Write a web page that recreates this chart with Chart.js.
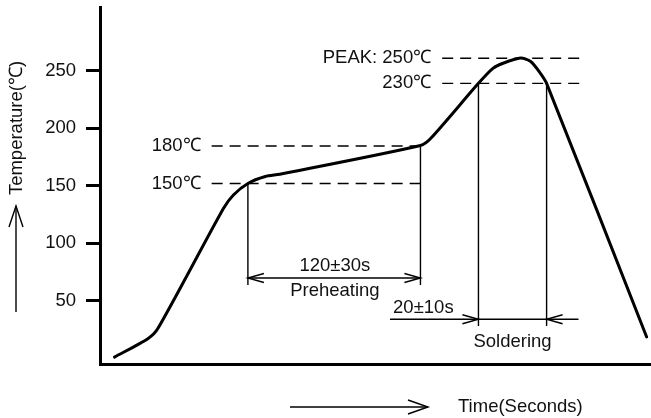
<!DOCTYPE html>
<html>
<head>
<meta charset="utf-8">
<script src="https://cdn.jsdelivr.net/npm/chart.js@4.4.1/dist/chart.umd.min.js"></script>
<style>
  html, body { margin: 0; padding: 0; background: #fff; }
  #wrap { width: 651px; height: 418px; }
</style>
</head>
<body>
<div id="wrap"><canvas id="profileChart"></canvas></div>
<script>
// reflow profile (time in s, temperature in degC)
const profileTime = [10, 33, 40, 85, 92, 102, 114, 124, 221, 228, 261, 271, 278, 290, 297, 303, 308, 377];
const profileTemp = [1, 17, 26, 130, 142, 152, 158, 160, 185, 191, 239, 252, 256.5, 261, 258, 249, 239, 18.5];
const tempTicks = [50, 100, 150, 200, 250];

// dashed guide levels
const levelNames = ['150℃', '180℃', '230℃', 'PEAK: 250℃'];
const levelTemps = [152, 184.6, 239, 260.8];
const levelFrom = [77, 77, 236, 236];
const levelTo = [221, 221, 333, 333];

// preheating window
const preStart = 102, preEnd = 221, preTop = 152, preBottom = 63.7, preArrow = 69.8;
// soldering window
const solStart = 261, solEnd = 308, solTop = 239, solBottom = 28, solArrow = 33.9;
const solLineFrom = 200, solLineTo = 330;

const windowNames = ['120±30s', 'Preheating', '20±10s', 'Soldering'];
const windowTextTime = [162, 162, 223, 284.5];
const windowTextTemp = [80.2, 58.5, 43.7, 14.4];

const FONT = '"Liberation Sans", Arial, Helvetica, sans-serif';
const FSIZE = 18.5;
Chart.defaults.font.family = FONT;
Chart.defaults.font.size = FSIZE;
Chart.defaults.color = '#111';

function seg(x1, y1, x2, y2, dash) {
    return {
        data: [{x: x1, y: y1}, {x: x2, y: y2}],
        borderColor: '#000',
        borderWidth: 1.4,
        borderDash: dash || [],
        pointRadius: 0,
        tension: 0,
        fill: false
    };
}

const datasets = [{
    data: profileTime.map((t, i) => ({x: t, y: profileTemp[i]})),
    borderColor: '#000',
    borderWidth: 3,
    pointRadius: 0,
    tension: 0.25,
    borderJoinStyle: 'round',
    borderCapStyle: 'round',
    fill: false
}];
levelTemps.forEach((v, i) => datasets.push(seg(levelFrom[i], v, levelTo[i], v, [11, 7])));
datasets.push(seg(preStart, preTop, preStart, preBottom));
datasets.push(seg(preEnd, 184.6, preEnd, preBottom));
datasets.push(seg(preStart, preArrow, preEnd, preArrow));
datasets.push(seg(solStart, solTop, solStart, solBottom));
datasets.push(seg(solEnd, solTop, solEnd, solBottom));
datasets.push(seg(solLineFrom, solArrow, solLineTo, solArrow));

function chevronH(ctx, x, y, dir, len, half) {
    ctx.beginPath();
    ctx.moveTo(x - dir * len, y - half);
    ctx.lineTo(x, y);
    ctx.lineTo(x - dir * len, y + half);
    ctx.stroke();
}

const annotations = {
    id: 'annotations',
    afterDraw(chart) {
        const ctx = chart.ctx;
        const xs = chart.scales.x, ys = chart.scales.y;
        const px = v => xs.getPixelForValue(v);
        const py = v => ys.getPixelForValue(v);
        ctx.save();
        ctx.strokeStyle = '#000';
        ctx.fillStyle = '#111';
        ctx.lineWidth = 1.4;
        ctx.font = FSIZE + 'px ' + FONT;

        // level labels
        ctx.textAlign = 'right';
        ctx.textBaseline = 'middle';
        levelNames.forEach((name, i) => {
            ctx.fillText(name, px(levelFrom[i]) - 11, py(levelTemps[i]));
        });

        // window arrowheads
        chevronH(ctx, px(preStart), py(preArrow), -1, 16, 4.5);
        chevronH(ctx, px(preEnd), py(preArrow), 1, 16, 4.5);
        chevronH(ctx, px(solStart), py(solArrow), 1, 16, 4.5);
        chevronH(ctx, px(solEnd), py(solArrow), -1, 16, 4.5);

        // window texts
        ctx.textAlign = 'center';
        windowNames.forEach((name, i) => {
            ctx.fillText(name, px(windowTextTime[i]), py(windowTextTemp[i]));
        });

        // x axis title with arrow
        const area = chart.chartArea;
        const ty = area.bottom + 43;
        ctx.beginPath();
        ctx.moveTo(290, ty);
        ctx.lineTo(428, ty);
        ctx.stroke();
        chevronH(ctx, 428, ty, 1, 20, 7);
        ctx.textAlign = 'left';
        ctx.fillText('Time(Seconds)', 458, ty);

        // y axis title with arrow
        ctx.beginPath();
        ctx.moveTo(16, 312);
        ctx.lineTo(16, 206);
        ctx.stroke();
        ctx.beginPath();
        ctx.moveTo(9, 227);
        ctx.lineTo(16, 206);
        ctx.lineTo(23, 227);
        ctx.stroke();
        ctx.translate(17, 128);
        ctx.rotate(-Math.PI / 2);
        ctx.textAlign = 'center';
        ctx.fillText('Temperature(℃)', 0, 0);
        ctx.restore();
    }
};

new Chart(document.getElementById('profileChart').getContext('2d'), {
    type: 'line',
    data: {datasets: datasets},
    plugins: [annotations],
    options: {
        responsive: true,
        maintainAspectRatio: false,
        animation: false,
        layout: {padding: {top: 7, right: 0, left: 0, bottom: 0}},
        plugins: {
            legend: {display: false},
            tooltip: {enabled: false}
        },
        scales: {
            x: {
                type: 'linear',
                min: 0,
                max: 380,
                ticks: {display: false},
                grid: {display: false},
                border: {display: true, color: '#000', width: 3},
                afterFit: scale => {
                    scale.height = 54;
                    scale.paddingLeft = 0;
                    scale.paddingRight = 0;
                }
            },
            y: {
                type: 'linear',
                min: -5,
                max: 305.4,
                afterBuildTicks: scale => {
                    scale.ticks = tempTicks.map(v => ({value: v}));
                },
                ticks: {
                    padding: 10,
                    color: '#111',
                    font: {size: FSIZE}
                },
                grid: {
                    drawOnChartArea: false,
                    drawTicks: true,
                    tickLength: 14,
                    lineWidth: 3,
                    color: '#000'
                },
                border: {display: true, color: '#000', width: 3},
                afterFit: scale => {
                    scale.width = 100;
                    scale.paddingTop = 0;
                    scale.paddingBottom = 0;
                }
            }
        }
    }
});
</script>
</body>
</html>
